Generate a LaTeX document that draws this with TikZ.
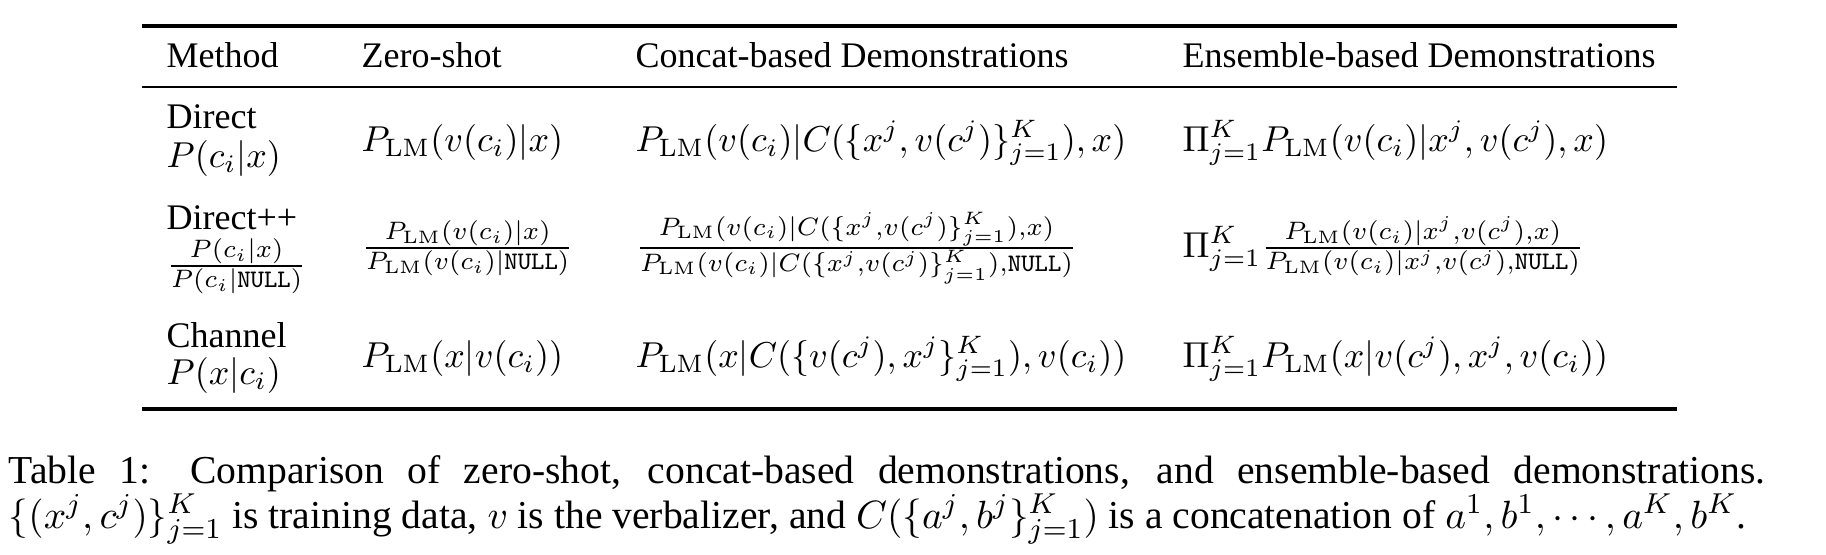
\documentclass[tikz,border=0pt]{standalone}
\usepackage[no-math]{fontspec}
\setmainfont{Liberation Serif}
\newcommand{\plm}{P_{\mathrm{LM}}}
\newcommand{\nul}{\mathtt{NULL}}
\tikzset{
  cell/.style={anchor=base west, inner sep=0pt},
  heavyrule/.style={line width=0.9pt},
  lightrule/.style={line width=0.55pt}
}
\begin{document}
\begin{tikzpicture}[x=0.2778pt, y=-0.2778pt]
  \useasboundingbox (0,0) rectangle (1826,554);

  \path
  (166,67) node[cell] (hm) {Method}
  (361,67) node[cell] (hz) {Zero-shot}
  (635,67) node[cell] (hc) {Concat-based Demonstrations}
  (1182,67) node[cell] (he) {Ensemble-based Demonstrations}
  (166,128) node[cell] (m1) {Direct}
  (166,167) node[cell] (m1f) {$P(c_i|x)$}
  (361,151) node[cell] (z1) {$\plm(v(c_i)|x)$}
  (635,151) node[cell] (c1) {$\plm(v(c_i)|C(\{x^j,v(c^j)\}_{j=1}^K),x)$}
  (1182,151) node[cell] (e1) {$\Pi_{j=1}^K\plm(v(c_i)|x^j,v(c^j),x)$}
  (166,229) node[cell] (m2) {Direct++}
  (166,275) node[cell] (m2f) {$\frac{P(c_i|x)}{P(c_i|\nul)}$}
  (361,257) node[cell] (z2) {$\frac{\plm(v(c_i)|x)}{\plm(v(c_i)|\nul)}$}
  (635,257) node[cell] (c2) {$\frac{\plm(v(c_i)|C(\{x^j,v(c^j)\}_{j=1}^K),x)}{\plm(v(c_i)|C(\{x^j,v(c^j)\}_{j=1}^K),\nul)}$}
  (1182,257) node[cell] (e2) {$\Pi_{j=1}^K\frac{\plm(v(c_i)|x^j,v(c^j),x)}{\plm(v(c_i)|x^j,v(c^j),\nul)}$}
  (166,347) node[cell] (m3) {Channel}
  (166,384) node[cell] (m3f) {$P(x|c_i)$}
  (361,367) node[cell] (z3) {$\plm(x|v(c_i))$}
  (635,367) node[cell] (c3) {$\plm(x|C(\{v(c^j),x^j\}_{j=1}^K),v(c_i))$}
  (1182,367) node[cell] (e3) {$\Pi_{j=1}^K\plm(x|v(c^j),x^j,v(c_i))$};

  \draw[heavyrule] (142,26) -- (1677,26);
  \draw[lightrule] (142,87) -- (1677,87);
  \draw[heavyrule] (142,409) -- (1677,409);

  \node[cell, text width=488pt, align=justify, font=\fontsize{11}{12.5}\selectfont] (cap) at (8,483)
  {Table 1: Comparison of zero-shot, concat-based demonstrations, and ensemble-based demonstrations.\linebreak
  $\{(x^j,c^j)\}_{j=1}^K$ is training data, $v$ is the verbalizer, and $C(\{a^j,b^j\}_{j=1}^K)$ is a concatenation of $a^1,b^1,\cdots,a^K,b^K$.};
\end{tikzpicture}
\end{document}
